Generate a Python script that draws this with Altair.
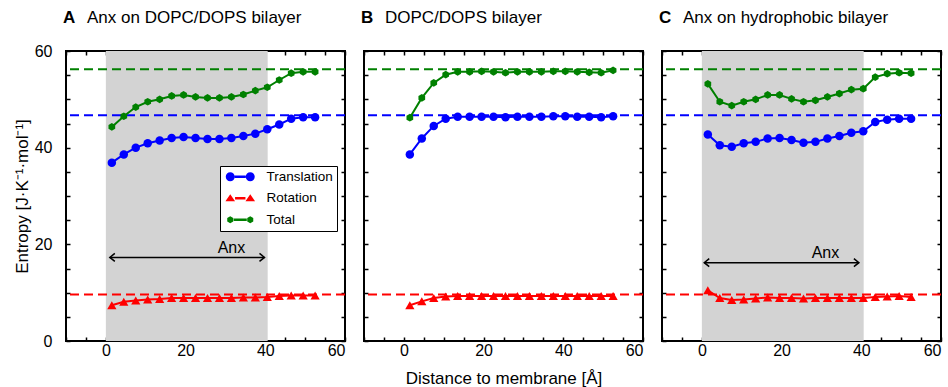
import altair as alt
import pandas as pd

# ---------------- data ----------------
DIST = [1.5, 4.5, 7.5, 10.5, 13.5, 16.5, 19.5, 22.5, 25.5, 28.5,
        31.5, 34.5, 37.5, 40.5, 43.5, 46.5, 49.5, 52.5]

SERIES = ["Translation", "Rotation", "Total"]
COLORS = ["#0000ff", "#ff0000", "#008000"]

PANEL_LETTERS = ["A", "B", "C"]
PANEL_TITLES = ["Anx on DOPC/DOPS bilayer", "DOPC/DOPS bilayer",
                "Anx on hydrophobic bilayer"]

TRANS_A = [36.9, 38.6, 40.0, 40.9, 41.5, 42.0, 42.2, 42.0, 41.8, 41.8,
           42.0, 42.4, 42.9, 43.8, 44.8, 46.0, 46.3, 46.3]
ROT_A = [7.4, 8.1, 8.4, 8.6, 8.7, 8.9, 8.9, 8.9, 8.9, 8.9,
         8.9, 9.0, 9.0, 9.1, 9.3, 9.4, 9.4, 9.4]
TOT_A = [44.3, 46.5, 48.4, 49.5, 50.0, 50.7, 50.9, 50.5, 50.3, 50.3,
         50.5, 51.0, 51.8, 52.5, 54.0, 55.4, 55.7, 55.7]

TRANS_B = [38.6, 41.9, 44.5, 46.0, 46.4, 46.4, 46.4, 46.4, 46.3, 46.4,
           46.4, 46.4, 46.5, 46.5, 46.4, 46.4, 46.3, 46.5]
ROT_B = [7.4, 8.2, 8.9, 9.2, 9.3, 9.3, 9.3, 9.3, 9.3, 9.3,
         9.3, 9.3, 9.3, 9.3, 9.3, 9.3, 9.3, 9.3]
TOT_B = [46.2, 50.3, 53.4, 55.1, 55.7, 55.7, 55.8, 55.7, 55.5, 55.7,
         55.7, 55.7, 55.8, 55.8, 55.7, 55.6, 55.5, 56.0]

TRANS_C = [42.7, 40.5, 40.2, 40.9, 41.2, 41.9, 42.0, 41.6, 41.0, 41.2,
           41.9, 42.4, 43.1, 43.4, 45.3, 45.8, 46.0, 46.0]
ROT_C = [10.5, 8.9, 8.5, 8.6, 8.8, 9.0, 8.9, 8.9, 8.8, 8.9,
         8.9, 8.9, 8.9, 8.9, 9.1, 9.2, 9.3, 9.1]
TOT_C = [53.2, 49.5, 48.7, 49.5, 50.0, 50.9, 50.9, 50.1, 49.5, 49.8,
         50.5, 51.2, 52.0, 52.2, 54.6, 55.3, 55.5, 55.4]

# bulk reference values (Translation, Rotation, Total)
REF_VALUES = [46.7, 9.6, 56.2]

# Anx extent (shaded band) and arrow annotation per panel (None = absent)
SHADE = {"A": [0, 40.6], "B": None, "C": [0, 40.6]}
ARROW = {"A": [1.0, 39.8, 17.3], "B": None, "C": [0.6, 39.4, 16.2]}
ARROW_LABEL = {"A": [31.5, 19.3], "B": None, "C": [31.0, 18.2]}
ARROW_TEXT = "Anx"

X_DOMAIN = [-10, 60]
Y_DOMAIN = [0, 60]
X_TICKS = [-10, -5, 0, 5, 10, 15, 20, 25, 30, 35, 40, 45, 50, 55, 60]
Y_TICKS = [0, 5, 10, 15, 20, 25, 30, 35, 40, 45, 50, 55, 60]

X_TITLE = "Distance to membrane [Å]"
Y_TITLE = "Entropy [J·K⁻¹·mol⁻¹]"

VALUES = {
    "A": [TRANS_A, ROT_A, TOT_A],
    "B": [TRANS_B, ROT_B, TOT_B],
    "C": [TRANS_C, ROT_C, TOT_C],
}

# ---------------- style ----------------
FONT = "Liberation Sans"
W, H = 279, 290
TICK = 4
HEX = "M0,-1L0.866,-0.5L0.866,0.5L0,1L-0.866,0.5L-0.866,-0.5Z"
POINT_STYLE = {
    "Translation": dict(shape="circle", size=72),
    "Rotation": dict(shape="triangle-up", size=85),
    "Total": dict(shape=HEX, size=60),
}


def circ(cx, r):
    return f"M{cx - r:.3f},0A{r},{r} 0 1 0 {cx + r:.3f},0A{r},{r} 0 1 0 {cx - r:.3f},0Z"


def tri(cx, hw, top, bot):
    return f"M{cx - hw:.3f},{bot}L{cx + hw:.3f},{bot}L{cx:.3f},{top}Z"


def hexa(cx, r):
    pts = [(0, -1), (0.866, -0.5), (0.866, 0.5), (0, 1), (-0.866, 0.5), (-0.866, -0.5)]
    return "M" + "L".join(f"{cx + r * a:.3f},{r * b:.3f}" for a, b in pts) + "Z"


def bar(x0, x1, h):
    return f"M{x0},{-h}L{x1},{-h}L{x1},{h}L{x0},{h}Z"


# legend glyphs (unit = 6 px at symbolSize 144): marker - line - marker
LEGEND_PATHS = [
    circ(-1.667, 0.75) + bar(-0.917, 0.917, 0.21) + circ(1.667, 0.75),
    tri(-1.667, 0.8, -0.68, 0.52) + bar(-0.867, 0.867, 0.21) + tri(1.667, 0.8, -0.68, 0.52),
    hexa(-1.667, 0.58) + bar(-1.09, 1.09, 0.21) + hexa(1.667, 0.58),
]

XS = alt.Scale(domain=X_DOMAIN, nice=False, zero=False)
YS = alt.Scale(domain=Y_DOMAIN, nice=False, zero=False)


def axis(orient, values, labels=False, title=None, label_pad=1, title_pad=8):
    kw = dict(orient=orient, values=values, tickSize=TICK, offset=-TICK,
              domain=False, grid=False, ticks=True, tickColor="black",
              tickWidth=1.5, labels=labels, title=title)
    if labels:
        kw.update(labelFont=FONT, labelFontSize=16, labelColor="black",
                  labelPadding=label_pad,
                  labelExpr="datum.value % 20 === 0 ? datum.label : ''")
    if title:
        kw.update(titleFont=FONT, titleFontSize=17, titleFontWeight="normal",
                  titleColor="black", titlePadding=title_pad)
    return alt.Axis(**kw)


def panel(idx):
    key = PANEL_LETTERS[idx]
    vals = VALUES[key]
    layers = []

    def enc_xy(xaxis=None, yaxis=None, xf="x:Q", yf="v:Q"):
        return dict(x=alt.X(xf, scale=XS, axis=xaxis),
                    y=alt.Y(yf, scale=YS, axis=yaxis))

    if SHADE[key] is not None:
        sdf = pd.DataFrame({"x0": [SHADE[key][0]], "x1": [SHADE[key][1]]})
        layers.append(alt.Chart(sdf).mark_rect(color="#d3d3d3").encode(
            x=alt.X("x0:Q", scale=XS, axis=None), x2="x1:Q",
            y=alt.Y(datum=Y_DOMAIN[0], scale=YS, axis=None),
            y2=alt.datum(Y_DOMAIN[1])))

    for si in range(len(SERIES)):
        rdf = pd.DataFrame({"v": [REF_VALUES[si]]})
        layers.append(alt.Chart(rdf).mark_rule(strokeWidth=2, strokeDash=[9, 5],
                                               color=COLORS[si]).encode(
            y=alt.Y("v:Q", scale=YS, axis=None)))

    left_labels = idx == 0
    for si, s in enumerate(SERIES):
        df = pd.DataFrame({"x": DIST, "v": vals[si]})
        if s == "Translation":
            xa = axis("bottom", X_TICKS, labels=True,
                      title=X_TITLE if idx == 1 else None, title_pad=12)
            ya = axis("left", Y_TICKS, labels=left_labels,
                      title=Y_TITLE if idx == 0 else None, label_pad=14, title_pad=3)
        elif s == "Total":
            xa = axis("top", X_TICKS)
            ya = axis("right", Y_TICKS)
        else:
            xa, ya = None, None
        layers.append(alt.Chart(df).mark_line(color=COLORS[si], strokeWidth=2)
                      .encode(**enc_xy(xa, ya)))
        layers.append(alt.Chart(df).mark_point(color=COLORS[si], filled=True, opacity=1,
                                               **POINT_STYLE[s])
                      .encode(**enc_xy()))

    if ARROW[key] is not None:
        x1, x2, ya_ = ARROW[key]
        adf = pd.DataFrame({"x1": [x1], "x2": [x2], "v": [ya_]})
        layers.append(alt.Chart(adf).mark_rule(color="black", strokeWidth=1.5).encode(
            x=alt.X("x1:Q", scale=XS, axis=None), x2="x2:Q",
            y=alt.Y("v:Q", scale=YS, axis=None)))
        layers.append(alt.Chart(adf).mark_point(
            shape="M1,-0.8L0,0L1,0.8", size=100, filled=False, color="black",
            strokeWidth=1.5, opacity=1).encode(**enc_xy(xf="x1:Q")))
        layers.append(alt.Chart(adf).mark_point(
            shape="M-1,-0.8L0,0L-1,0.8", size=100, filled=False, color="black",
            strokeWidth=1.5, opacity=1).encode(**enc_xy(xf="x2:Q")))
        lx, ly = ARROW_LABEL[key]
        ldf = pd.DataFrame({"x": [lx], "v": [ly], "t": [ARROW_TEXT]})
        layers.append(alt.Chart(ldf).mark_text(font=FONT, fontSize=16, color="black",
                                               align="center", baseline="middle")
                      .encode(text="t:N", **enc_xy()))

    if idx == 0:
        # legend carrier: rows pushed off-scale and clipped away, only the legend shows
        df = pd.DataFrame({"x": DIST, "v": vals[0], "series": SERIES * 6})
        leg = dict(title=None, orient="none", legendX=154, legendY=115,
                   symbolSize=144, symbolStrokeWidth=0, symbolOpacity=1,
                   symbolOffset=9.5,
                   labelFont=FONT, labelFontSize=13.5, labelColor="black",
                   labelOffset=19.5, padding=4, rowPadding=6.5,
                   strokeColor="black", fillColor="white", cornerRadius=0)
        layers.append(alt.Chart(df).transform_calculate(off="-1000").mark_point(
            filled=True, opacity=1, clip=True).encode(
            x=alt.X("x:Q", scale=XS, axis=None), y=alt.Y("off:Q", scale=YS, axis=None),
            color=alt.Color("series:N", scale=alt.Scale(domain=SERIES, range=COLORS),
                            legend=alt.Legend(**leg)),
            shape=alt.Shape("series:N", scale=alt.Scale(domain=SERIES, range=LEGEND_PATHS),
                            legend=alt.Legend(**leg))))

    # panel heading
    hdf = pd.DataFrame({"t": [PANEL_LETTERS[idx]]})
    layers.append(alt.Chart(hdf).mark_text(font=FONT, fontSize=17, fontWeight="bold",
                                           align="left", baseline="alphabetic",
                                           color="black")
                  .encode(text="t:N", x=alt.value(-3), y=alt.value(-28)))
    tdf = pd.DataFrame({"t": [PANEL_TITLES[idx]]})
    layers.append(alt.Chart(tdf).mark_text(font=FONT, fontSize=17,
                                           align="left", baseline="alphabetic",
                                           color="black")
                  .encode(text="t:N", x=alt.value(21), y=alt.value(-28)))

    return alt.layer(*layers).properties(width=W, height=H).resolve_axis(
        x="independent", y="independent")


chart = alt.hconcat(panel(0), panel(1), panel(2), spacing=19, bounds="flush").resolve_scale(
    color="independent", shape="independent").resolve_legend(
    color="independent", shape="independent").configure_view(
    stroke="black", strokeWidth=2).properties(
    padding={"left": 12, "top": 8, "right": 0, "bottom": 0})

chart.save("out.html", embed_options={"renderer": "svg", "actions": False})
